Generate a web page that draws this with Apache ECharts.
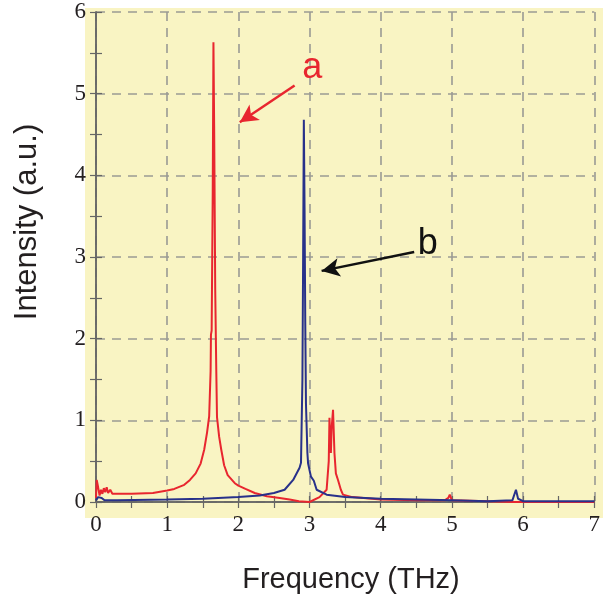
<!DOCTYPE html>
<html>
<head>
<meta charset="utf-8">
<script src="https://cdn.jsdelivr.net/npm/echarts@6/dist/echarts.min.js"></script>
<style>html,body{margin:0;padding:0;background:#fff;}#c{width:603px;height:605px;}</style>
</head>
<body>
<div id="c"></div>
<script>
// Curve a (red)
var aFreq = [0.00,0.01,0.03,0.05,0.07,0.09,0.11,0.13,0.15,0.17,0.20,0.23,0.30,0.50,0.80,1.00,1.10,1.24,1.32,1.40,1.47,1.52,1.56,1.59,1.61,1.615,1.625,1.64,1.65,1.66,1.675,1.69,1.70,1.73,1.76,1.80,1.85,1.95,2.00,2.10,2.23,2.40,2.58,2.72,2.85,3.00,3.14,3.24,3.27,3.28,3.30,3.31,3.33,3.35,3.37,3.40,3.44,3.47,3.60,4.00,4.50,4.90,4.95,4.97,5.00,5.50,5.85,5.90,6.00,7.00];
var aInt  = [0.05,0.27,0.18,0.08,0.15,0.10,0.17,0.12,0.18,0.11,0.15,0.10,0.10,0.10,0.11,0.14,0.16,0.21,0.27,0.35,0.47,0.64,0.85,1.05,1.60,2.05,2.10,3.80,5.63,4.60,2.60,1.60,1.04,0.80,0.64,0.45,0.33,0.23,0.20,0.16,0.11,0.07,0.05,0.03,0.01,0.00,0.06,0.15,0.50,1.03,0.60,0.90,1.13,0.60,0.35,0.27,0.15,0.09,0.06,0.03,0.02,0.02,0.05,0.09,0.02,0.01,0.00,0.00,0.00,0.00];
// Curve b (blue)
var bFreq = [0.00,0.03,0.05,0.08,0.12,0.30,1.00,1.50,2.00,2.30,2.50,2.65,2.77,2.86,2.88,2.90,2.91,2.92,2.93,2.94,2.95,2.97,2.98,3.02,3.06,3.10,3.24,3.50,4.00,4.50,5.00,5.50,5.85,5.90,5.93,6.00,7.00];
var bInt  = [0.02,0.06,0.04,0.05,0.02,0.02,0.03,0.04,0.06,0.08,0.11,0.15,0.27,0.42,0.48,1.50,3.00,4.68,3.60,2.20,1.20,0.60,0.47,0.31,0.26,0.15,0.09,0.06,0.04,0.03,0.02,0.01,0.02,0.15,0.04,0.01,0.01];
// Axis ticks
var xTicks = [0,1,2,3,4,5,6,7];
var yTicks = [0,1,2,3,4,5,6];
// Annotations (data coordinates)
var arrowA = [[2.79,5.10],[2.02,4.65]];
var arrowB = [[4.47,3.06],[3.17,2.83]];
var labelA = [3.04,5.31,'a'];
var labelB = [4.66,3.16,'b'];

function pairs(xs, ys){ return xs.map(function(x,i){return [x, ys[i]];}); }

var chart = echarts.init(document.getElementById('c'), null, {renderer:'canvas'});
var axisCommon = {
  axisLine:{show:true, lineStyle:{color:'#666', width:1.5}},
  axisTick:{show:true, inside:true, length:6, lineStyle:{color:'#666', width:1.2}},
  minorTick:{show:true, splitNumber:2, length:6, lineStyle:{color:'#666', width:1.2}}
};
function mk(base, extra){ var o = JSON.parse(JSON.stringify(base)); for (var k in extra) o[k]=extra[k]; return o; }
var serif = '"Liberation Serif", "Times New Roman", serif';
var sans = '"Liberation Sans", Arial, sans-serif';

chart.setOption({
  backgroundColor:'#ffffff',
  animation:false,
  graphic:[
    {type:'rect', z:-10, silent:true, shape:{x:85, y:8, width:518, height:510}, style:{fill:'#f9f4c3'}},
    {type:'text', x:351, y:580, style:{text:'Frequency (THz)', font:'29px ' + sans, fill:'#231f20', textAlign:'center', textVerticalAlign:'middle'}},
    {type:'text', rotation:Math.PI/2, x:27, y:222, style:{text:'Intensity (a.u.)', font:'31px ' + sans, fill:'#231f20', textAlign:'center', textVerticalAlign:'middle'}}
  ],
  grid:{left:96, right:8, top:12, bottom:103, show:true, backgroundColor:'#f9f4c3', borderWidth:0},
  xAxis:[
    mk(axisCommon, {type:'value', min:xTicks[0], max:xTicks[xTicks.length-1], interval:1, position:'bottom',
      axisLabel:{show:true, margin:11, fontSize:23, fontFamily:serif, color:'#231f20'},
      splitLine:{show:true, lineStyle:{color:'#9a9a94', width:1.6, type:[9,7]}}}),
    mk(axisCommon, {type:'value', min:xTicks[0], max:xTicks[xTicks.length-1], interval:1, position:'top',
      axisLabel:{show:false}, splitLine:{show:false}})
  ],
  yAxis:[
    mk(axisCommon, {type:'value', min:yTicks[0], max:yTicks[yTicks.length-1], interval:1, position:'left',
      axisLabel:{show:true, margin:10, fontSize:23, fontFamily:serif, color:'#231f20'},
      splitLine:{show:true, lineStyle:{color:'#9a9a94', width:1.6, type:[9,7]}}}),
    mk(axisCommon, {type:'value', min:yTicks[0], max:yTicks[yTicks.length-1], interval:1, position:'right',
      axisLabel:{show:false}, splitLine:{show:false}})
  ],
  series:[
    {type:'line', name:'a', data:pairs(aFreq,aInt), showSymbol:false, symbol:'none', z:3,
      lineStyle:{color:'#e8262f', width:2},
      markLine:{silent:true, symbol:['none','arrow'], symbolSize:[14,18], label:{show:false},
        lineStyle:{color:'#e8262f', width:2.5, type:'solid'},
        data:[[{coord:arrowA[0]},{coord:arrowA[1]}]]},
      markPoint:{silent:true, symbol:'circle', symbolSize:1, itemStyle:{color:'rgba(0,0,0,0)'},
        label:{show:true, formatter:labelA[2], color:'#e8262f', fontSize:36, fontFamily:sans, position:'inside'},
        data:[{coord:[labelA[0],labelA[1]]}]}
    },
    {type:'line', name:'b', data:pairs(bFreq,bInt), showSymbol:false, symbol:'none', z:4,
      lineStyle:{color:'#28318a', width:2},
      markLine:{silent:true, symbol:['none','arrow'], symbolSize:[14,18], label:{show:false},
        lineStyle:{color:'#111111', width:2.5, type:'solid'},
        data:[[{coord:arrowB[0]},{coord:arrowB[1]}]]},
      markPoint:{silent:true, symbol:'circle', symbolSize:1, itemStyle:{color:'rgba(0,0,0,0)'},
        label:{show:true, formatter:labelB[2], color:'#111111', fontSize:36, fontFamily:sans, position:'inside'},
        data:[{coord:[labelB[0],labelB[1]]}]}
    }
  ]
});
</script>
</body>
</html>
